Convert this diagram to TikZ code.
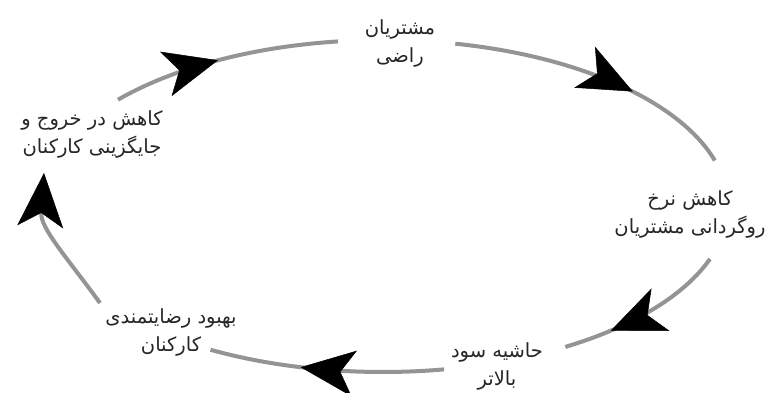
\documentclass[tikz,border=0pt]{standalone}
\usepackage{fontspec}
\newfontfamily\persianfont[Script=Arabic]{DejaVu Sans}
\TeXXeTstate=1
\usetikzlibrary{arrows.meta,decorations.markings}
\begin{document}
\begin{tikzpicture}[x=1pt,y=1pt,
  lbl/.style={font=\persianfont\fontsize{19.5}{28}\selectfont, align=center, inner sep=0pt, text=black!85},
  headtip/.tip={Stealth[length=54pt,width=46pt,inset=14pt,color=black,line width=0.5pt]},
  arcline/.style={draw=black!42, line width=4pt},
  cyc/.style={arcline, postaction={decorate},
    decoration={markings, mark=at position #1 with {\arrow{headtip}}}}
]
\useasboundingbox[fill=white] (0,0) rectangle (769,392);
\coordinate (c) at (383,186);
% text nodes
\node[lbl] (sat)    at (400,349) {\beginR مشتریان\endR\\\beginR راضی\endR};
\node[lbl] (churn)  at (690,178) {\beginR کاهش نرخ\endR\\\beginR روگردانی مشتریان\endR};
\node[lbl] (profit) at (497,26)  {\beginR حاشیه سود\endR\\\beginR بالاتر\endR};
\node[lbl] (emp)    at (171,60)  {\beginR بهبود رضایتمندی\endR\\\beginR کارکنان\endR};
\node[lbl] (turn)   at (92,258)  {\beginR کاهش در خروج و\endR\\\beginR جایگزینی کارکنان\endR};
% arc start points on the ellipse
\path (c) ++(140.2:345 and 166) coordinate (a1);
\path (c) ++(77.9:345 and 166)  coordinate (a2);
\path (c) ++(-18.6:345 and 166) coordinate (a3);
\path (c) ++(-79.8:345 and 166) coordinate (a4);
\coordinate (a5) at (100,89);
\coordinate (e5) at (44,219);
% connectors
\draw[cyc=0.47] (a1) arc[start angle=140.2, end angle=97.5,  x radius=345, y radius=166];
\draw[cyc=0.63] (a2) arc[start angle=77.9,  end angle=15.9,  x radius=345, y radius=166];
\draw[cyc=0.72] (a3) arc[start angle=-18.6, end angle=-58.1, x radius=345, y radius=166];
\draw[cyc=0.61] (a4) arc[start angle=-79.8, end angle=-120,  x radius=345, y radius=166];
\draw[arcline,-{headtip}] (a5) to[out=126,in=266] (e5);
\end{tikzpicture}
\end{document}
